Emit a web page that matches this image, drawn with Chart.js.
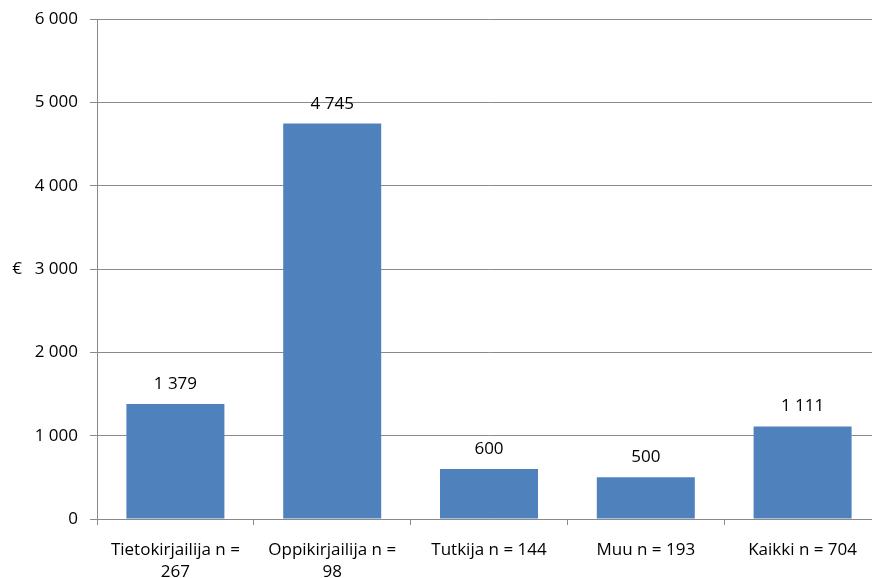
<!DOCTYPE html>
<html><head><meta charset="utf-8">
<script src="https://cdn.jsdelivr.net/npm/chart.js@4/dist/chart.umd.min.js"></script>
<style>html,body{margin:0;padding:0;background:#fff;overflow:hidden}#wrap{width:872px;height:578px;overflow:hidden;position:relative}canvas{display:block}</style>
</head><body><div id="wrap"><canvas id="c" width="884" height="578"></canvas></div>
<script>
const categories = [["Tietokirjailija n =", "267"], ["Oppikirjailija n =", "98"], "Tutkija n = 144", "Muu n = 193", "Kaikki n = 704"];
const values = [1379, 4745, 600, 500, 1111];
const yTicks = [0, 1000, 2000, 3000, 4000, 5000, 6000];
const yTitle = "€";

const fmt = v => String(v).replace(/\B(?=(\d{3})+(?!\d))/g, "\u00a0");
const FONT = "'Open Sans', sans-serif";
const FS = 17;
const gridColor = "#8a8a8a";

const labelPlugin = {
  id: "labels",
  afterDatasetsDraw(chart) {
    const ctx = chart.ctx;
    const meta = chart.getDatasetMeta(0);
    ctx.save();
    ctx.font = FS + "px " + FONT;
    ctx.fillStyle = "#000";
    ctx.textAlign = "center";
    ctx.textBaseline = "alphabetic";
    meta.data.forEach((bar, i) => {
      ctx.fillText(fmt(values[i]), bar.x, bar.y - 15);
    });
    const ys = chart.scales.y;
    ctx.textAlign = "center";
    ctx.textBaseline = "middle";
    ctx.fillText(yTitle, 17, ys.getPixelForValue(3000));
    ctx.restore();
  }
};

new Chart(document.getElementById("c"), {
  type: "bar",
  data: {
    labels: categories,
    datasets: [{ data: values, backgroundColor: "#4F81BD", borderWidth: 0, barPercentage: 0.625, categoryPercentage: 1 }]
  },
  options: {
    responsive: false,
    animation: false,
    layout: { padding: { left: 0, right: 3, top: 19, bottom: 0 } },
    plugins: { legend: { display: false }, tooltip: { enabled: false } },
    scales: {
      x: {
        offset: true,
        grid: { offset: true, drawOnChartArea: false, drawTicks: true, tickLength: 6, color: gridColor },
        border: { color: gridColor, width: 1 },
        ticks: { font: { family: FONT, size: FS, lineHeight: 1.3 }, color: "#000", padding: 14, maxRotation: 0, autoSkip: false },
        afterFit(s) { s.height = 59; }
      },
      y: {
        min: 0, max: 6000,
        afterBuildTicks(s) { s.ticks = yTicks.map(v => ({ value: v })); },
        grid: { color: gridColor, tickLength: 7 },
        border: { color: gridColor, width: 1 },
        ticks: { font: { family: FONT, size: FS, lineHeight: 1.0 }, color: "#000", padding: 12, callback: v => fmt(v) },
        afterFit(s) { s.width = 97; s.paddingTop = 0; s.paddingBottom = 0; }
      }
    }
  },
  plugins: [labelPlugin]
});
</script></body></html>
